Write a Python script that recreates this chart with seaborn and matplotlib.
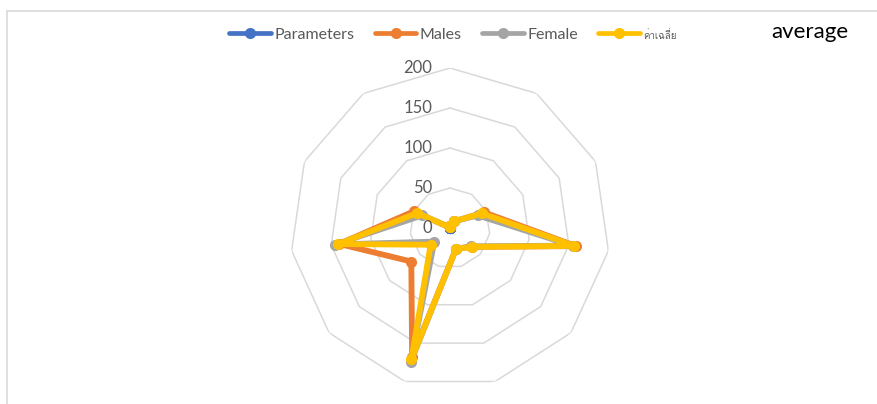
import numpy as np
import pandas as pd
import matplotlib
matplotlib.use("Agg")
import matplotlib.pyplot as plt
from matplotlib.lines import Line2D
from matplotlib import font_manager
import seaborn as sns

categories = ["c1", "c2", "c3", "c4", "c5", "c6", "c7", "c8", "c9", "c10", "c11"]
parameters = [0, 0, 0, 0, 0, 0, 0, 0, 0, 0, 0]
males = [2, 10, 47, 159, 36, 27, 168, 64, 140, 50, 1]
female = [2, 10, 38, 155, 35, 27, 175, 26, 145, 38, 1]
average = [3, 10, 44, 157, 36, 27, 171, 32, 141, 45, 1]
ring_values = [50, 100, 150, 200]
tick_labels = ["0", "50", "100", "150", "200"]

series = {"Parameters": parameters, "Males": males, "Female": female, "ค่าเฉลี่ย": average}
colors = {"Parameters": "#4472C4", "Males": "#ED7D31", "Female": "#A5A5A5", "ค่าเฉลี่ย": "#FFC000"}


def find_thai_families():
    # look through installed fonts for one that has Thai letters
    found = []
    try:
        from fontTools.ttLib import TTFont
    except ImportError:
        return found
    for f in font_manager.fontManager.ttflist:
        if f.name in found:
            continue
        try:
            tt = TTFont(f.fname, fontNumber=0, lazy=True)
            cmap = tt.getBestCmap() or {}
            if ord("ค") in cmap and ord("ี") in cmap:
                found.append(f.name)
        except Exception:
            pass
    return found


thai_fams = find_thai_families()
print("thai fonts:", thai_fams)

sns.set_style("white")
plt.rcParams["font.family"] = ["Lato", "DejaVu Sans"] + thai_fams

n = len(categories)
theta = np.linspace(0, 2 * np.pi, n, endpoint=False)
theta_closed = np.append(theta, 2 * np.pi)

rows = []
for name, vals in series.items():
    vals_closed = list(vals) + [vals[0]]
    for i, (t, v) in enumerate(zip(theta_closed, vals_closed)):
        rows.append({"series": name, "order": i, "theta": t, "value": v})
df = pd.DataFrame(rows)

fig = plt.figure(figsize=(8.77, 4.04), dpi=100)
ax = fig.add_axes([290 / 877, 16 / 404, 320 / 877, 320 / 404], projection="polar")
ax.set_theta_zero_location("N")
ax.set_theta_direction(-1)
ax.set_ylim(0, 200)
ax.grid(False)
ax.spines["polar"].set_visible(False)
ax.set_xticks([])
ax.set_yticks([])

# polygon rings
for rv in ring_values:
    ax.plot(theta_closed, [rv] * (n + 1), color="#D9D9D9", lw=1.1, zorder=1)

for name in series:
    sub = df[df["series"] == name]
    sns.lineplot(data=sub, x="theta", y="value", sort=False, estimator=None,
                 color=colors[name], lw=4.2, marker="o", markersize=8,
                 markeredgewidth=0, ax=ax, zorder=3)
ax.set_xlabel("")
ax.set_ylabel("")
if ax.get_legend():
    ax.get_legend().remove()

for lab, rv in zip(tick_labels, [0] + ring_values):
    ax.annotate(lab, xy=(0, rv), xytext=(-18, 0), textcoords="offset pixels",
                ha="right", va="center", fontsize=12, color="#595959")

handles = [Line2D([], [], color=colors[k], lw=3.4, marker="o", markersize=8,
                  markeredgewidth=0) for k in series]
leg = fig.legend(handles, list(series.keys()), loc="center", bbox_to_anchor=(453 / 877, 1 - 35 / 404),
                 ncol=4, frameon=False, fontsize=11.5, handlelength=2.6, handletextpad=0.2,
                 columnspacing=1.3, labelcolor="#595959")
for txt in leg.get_texts():
    if txt.get_text() == "ค่าเฉลี่ย":
        txt.set_fontsize(7)
        txt.set_family(thai_fams + ["DejaVu Sans"])

fig.text(810 / 877, 1 - 32 / 404, "average", ha="center", va="center", fontsize=16, color="black")

# chart frame lines
fig.add_artist(Line2D([7 / 877, 1], [1 - 11 / 404, 1 - 11 / 404], color="#D9D9D9", lw=1.2))
fig.add_artist(Line2D([7 / 877, 7 / 877], [0, 1 - 11 / 404], color="#D9D9D9", lw=1.2))

fig.savefig("out.png", dpi=100)
